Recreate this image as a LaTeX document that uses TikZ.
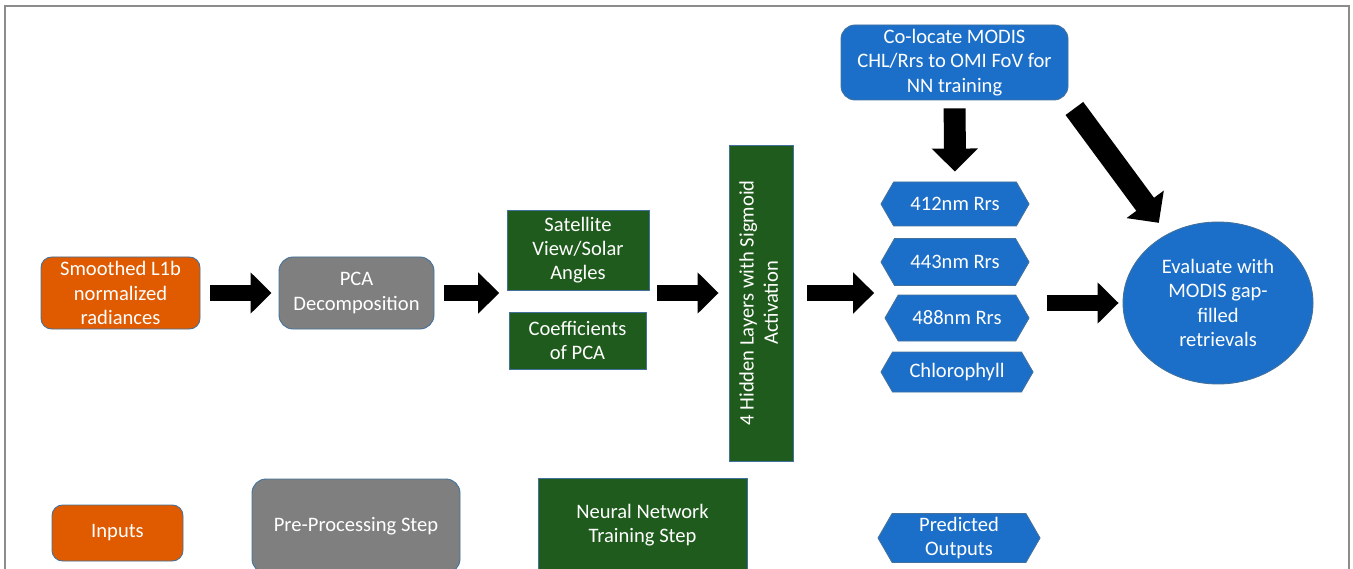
\documentclass[tikz,border=0pt]{standalone}
\usepackage{fontspec}
\setmainfont{Carlito}
\usepackage{graphicx}
\usepackage{tikz}
\usetikzlibrary{arrows.meta,positioning,calc,fit,shapes.geometric,shapes.symbols}
\definecolor{nnOrange}{HTML}{E05A00}
\definecolor{nnGrey}{HTML}{7F7F7F}
\definecolor{nnGreen}{HTML}{1F5B1C}
\definecolor{nnBlue}{HTML}{1C6FC9}
\definecolor{nnEdge}{HTML}{41719C}
\definecolor{nnFrame}{HTML}{8C8C8C}
\tikzset{
  basebox/.style={draw=nnEdge, line width=0.5pt, text=white, align=center, inner sep=2pt, font=\fontsize{11.7}{13.8}\selectfont},
  inbox/.style={basebox, rounded corners=6pt, fill=nnOrange},
  prebox/.style={basebox, rounded corners=8pt, fill=nnGrey},
  nnbox/.style={basebox, fill=nnGreen},
  colbox/.style={basebox, rounded corners=8pt, fill=nnBlue},
  outhex/.style={basebox, fill=nnBlue, signal, signal to=west and east, signal pointer angle=120},
  evalell/.style={basebox, ellipse, fill=nnBlue, inner sep=0pt},
  blockarr/.style={-{Triangle[length=0.42cm,width=0.8cm]}, line width=9pt, draw=black},
  bigarr/.style={-{Triangle[length=0.46cm,width=0.9cm]}, line width=12.5pt, draw=black}
}

\begin{document}
\begin{tikzpicture}[x=1cm,y=1cm]
  \path[use as bounding box] (0,0) rectangle (27.06,-11.38);
  \clip (0,0) rectangle (27.06,-11.38);
  \draw[nnFrame, line width=0.6pt] (0.10,-0.12) rectangle (26.98,-12);
  % main flow
  \node[inbox, minimum width=3.18cm, minimum height=1.44cm] (l1b) at (2.41,-5.86) {Smoothed L1b\\normalized\\radiances};
  \node[prebox, minimum width=3.10cm, minimum height=1.44cm] (pca) at (7.13,-5.86) {PCA\\Decomposition};
  \node[nnbox, minimum width=2.84cm, minimum height=1.60cm] (sat) at (11.56,-5.00) {Satellite\\View/Solar\\Angles};
  \node[nnbox, minimum width=2.74cm, minimum height=1.14cm] (coef) at (11.55,-6.81) {Coefficients\\of PCA};
  \node[fit=(sat)(coef), inner sep=0pt] (nnin) {};
  \node[nnbox, minimum width=1.28cm, minimum height=6.32cm] (hidden) at (15.22,-6.06) {\rotatebox{90}{\begin{tabular}{@{}c@{}}4 Hidden Layers with Sigmoid\\Activation\end{tabular}}};
  \node[colbox, minimum width=4.54cm, minimum height=1.50cm] (coloc) at (19.09,-1.25) {Co-locate MODIS\\CHL/Rrs to OMI FoV for\\NN training};
  \node[outhex, minimum width=2.96cm, minimum height=0.88cm] (hx412) at (19.10,-4.08) {412nm Rrs};
  \node[outhex, minimum width=2.96cm, minimum height=0.94cm] (hx443) at (19.10,-5.24) {443nm Rrs};
  \node[outhex, minimum width=2.88cm, minimum height=0.92cm] (hx488) at (19.14,-6.36) {488nm Rrs};
  \node[outhex, minimum width=3.04cm, minimum height=0.80cm] (chl) at (19.14,-7.44) {Chlorophyll};
  \node[fit=(hx412)(chl), inner sep=0pt] (outs) {};
  \node[evalell, minimum width=3.80cm, minimum height=3.24cm] (eval) at (24.36,-6.06) {Evaluate with\\MODIS gap-\\filled\\retrievals};
  % block arrows
  \draw[blockarr, shorten <=0.2cm, shorten >=0.14cm] (l1b) -- (pca);
  \draw[blockarr, shorten <=0.2cm, shorten >=0.14cm] (pca.east) -- (pca.east -| nnin.west);
  \draw[blockarr, shorten <=0.14cm, shorten >=0.2cm] (pca.east -| nnin.east) -- (pca.east -| hidden.west);
  \draw[blockarr, shorten <=0.28cm, shorten >=0.12cm] (pca.east -| hidden.east) -- (pca.east -| outs.west);
  \draw[blockarr, shorten <=0.26cm, shorten >=0.08cm] (outs.east |- eval) -- (eval);
  \draw[bigarr, shorten <=0.16cm, shorten >=0.2cm] (coloc) -- (hx412);
  \draw[bigarr, shorten <=0.2cm, shorten >=0.28cm] (coloc.south east) -- (eval);
  % legend
  \node[inbox, minimum width=2.62cm, minimum height=1.12cm] (leg1) at (2.35,-10.66) {Inputs};
  \node[prebox, minimum width=4.16cm, minimum height=1.88cm] (leg2) at (7.12,-10.52) {Pre-Processing Step};
  \node[nnbox, minimum width=4.18cm, minimum height=1.88cm] (leg3) at (12.85,-10.50) {Neural Network\\Training Step};
  \node[outhex, minimum width=3.24cm, minimum height=0.92cm] (leg4) at (19.18,-10.76) {Predicted\\Outputs};
\end{tikzpicture}
\end{document}
